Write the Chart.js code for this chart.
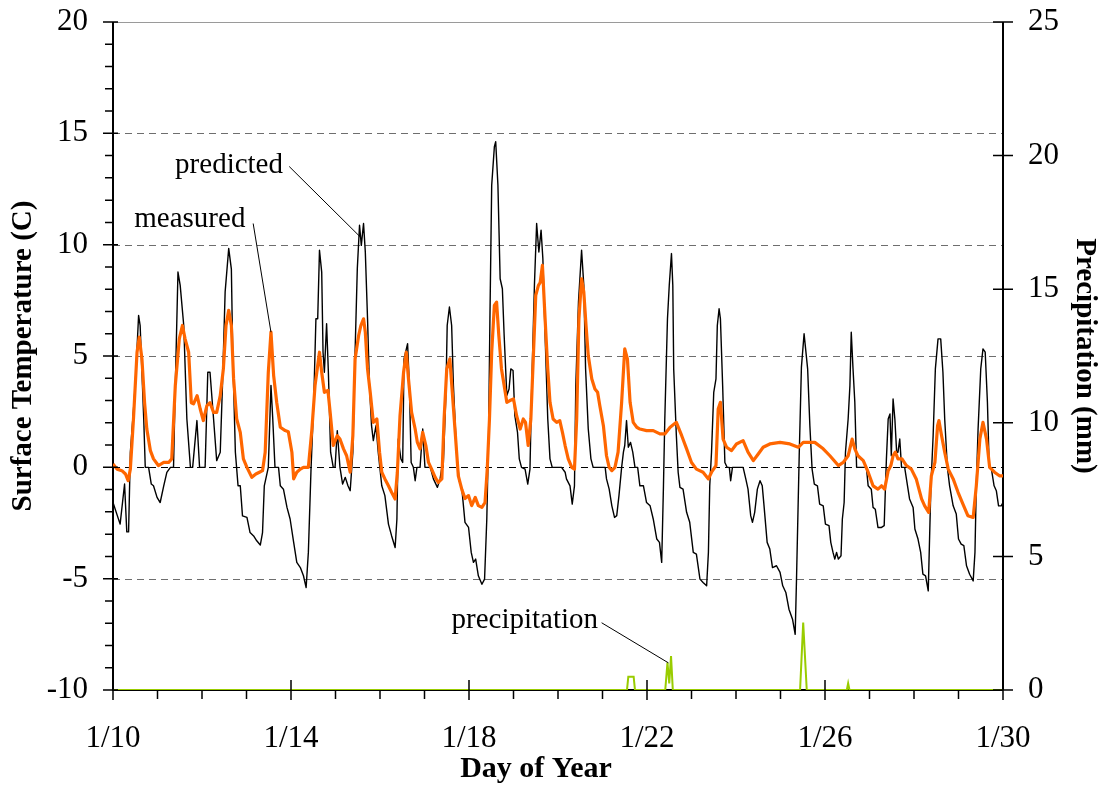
<!DOCTYPE html>
<html>
<head>
<meta charset="utf-8">
<script src="https://cdn.jsdelivr.net/npm/chart.js@4/dist/chart.umd.min.js"></script>
<style>
  html, body { margin: 0; padding: 0; background: #fff; }
</style>
</head>
<body>
<canvas id="surfaceChart" width="1105" height="787"></canvas>
<script>
// predicted surface temperature (C) by day of year
const predDays = [10.00,10.16,10.26,10.31,10.35,10.39,10.50,10.575,10.61,10.69,10.725,10.80,10.86,10.91,10.99,11.06,11.14,11.21,11.29,11.36,11.40,11.46,11.51,11.59,11.66,11.74,11.79,11.886,11.945,12.07,12.13,12.18,12.26,12.33,12.41,12.46,12.52,12.60,12.66,12.69,12.75,12.81,12.86,12.91,13.01,13.08,13.16,13.23,13.31,13.36,13.40,13.49,13.55,13.59,13.64,13.72,13.76,13.83,13.91,13.98,14.06,14.13,14.21,14.28,14.34,14.39,14.45,14.51,14.56,14.60,14.64,14.69,14.72,14.75,14.80,14.84,14.89,14.95,14.99,15.04,15.10,15.16,15.22,15.28,15.33,15.39,15.44,15.49,15.54,15.58,15.63,15.67,15.72,15.76,15.81,15.85,15.91,15.96,16.04,16.11,16.19,16.26,16.34,16.38,16.41,16.47,16.51,16.54,16.62,16.66,16.70,16.75,16.79,16.83,16.90,16.96,17.01,17.13,17.20,17.29,17.35,17.39,17.42,17.48,17.51,17.56,17.61,17.65,17.72,17.78,17.84,17.91,17.99,18.05,18.10,18.15,18.21,18.29,18.35,18.40,18.44,18.47,18.51,18.57,18.60,18.65,18.70,18.75,18.79,18.85,18.90,18.94,18.99,19.03,19.09,19.13,19.18,19.26,19.32,19.37,19.41,19.47,19.52,19.57,19.62,19.66,19.71,19.77,19.82,19.87,20.08,20.16,20.19,20.27,20.32,20.37,20.40,20.46,20.53,20.58,20.62,20.68,20.74,20.79,21.06,21.09,21.15,21.21,21.27,21.32,21.37,21.43,21.47,21.50,21.54,21.58,21.63,21.68,21.73,21.79,21.84,21.92,21.99,22.07,22.14,22.22,22.28,22.33,22.37,22.40,22.46,22.50,22.55,22.58,22.60,22.66,22.70,22.74,22.81,22.89,22.96,23.04,23.11,23.19,23.26,23.34,23.38,23.41,23.45,23.50,23.55,23.58,23.62,23.65,23.70,23.75,23.80,23.85,23.88,23.92,24.16,24.22,24.27,24.33,24.37,24.42,24.48,24.54,24.59,24.63,24.70,24.76,24.82,24.91,24.99,25.05,25.12,25.19,25.27,25.33,25.36,25.42,25.47,25.53,25.61,25.66,25.71,25.76,25.83,25.88,25.96,26.01,26.09,26.13,26.18,26.22,26.26,26.30,26.36,26.39,26.43,26.46,26.52,26.56,26.59,26.63,26.67,26.71,26.93,26.97,27.04,27.08,27.13,27.19,27.27,27.33,27.38,27.42,27.46,27.49,27.53,27.57,27.61,27.64,27.68,27.72,27.79,27.83,27.90,27.98,28.02,28.09,28.15,28.20,28.26,28.32,28.38,28.43,28.48,28.54,28.60,28.65,28.69,28.75,28.80,28.88,28.95,29.00,29.06,29.12,29.18,29.25,29.33,29.37,29.40,29.44,29.50,29.55,29.60,29.65,29.69,29.74,29.80,29.85,29.90,29.96,30.00];
const predTemp = [-1.58,-2.55,-0.75,-2.9,-2.9,0.68,3.68,6.82,6.37,2.2,0,0,-0.75,-0.83,-1.35,-1.58,-0.83,-0.23,0,0,3.68,8.77,8.17,6.37,2.17,0,0,2.1,0,0,4.27,4.27,2.17,0.3,0.68,3.68,7.88,9.83,8.9,5.17,0.68,-0.83,-0.83,-2.18,-2.25,-2.93,-3.08,-3.3,-3.49,-2.93,-0.83,0,3.68,2.17,0,0,-0.83,-0.98,-1.8,-2.32,-3.37,-4.27,-4.5,-4.87,-5.4,-3.82,-0.08,2.9,6.67,6.67,9.75,8.77,5.17,4.27,6.45,4.27,0.68,0,0,1.65,0,-0.75,-0.45,-0.83,-1.05,0.68,5.17,8.92,10.87,9.97,10.95,9.67,6.67,3.82,1.87,1.2,1.87,0.68,-0.83,-1.27,-2.55,-3.07,-3.6,-2.32,1.27,0.38,0.22,4.87,5.55,3.67,0.22,0,-0.6,0,0,1.72,0,0,-0.52,-0.9,-0.52,0,0,3.22,6.37,7.2,6.37,3.67,0.68,-0.6,-0.98,-2.47,-2.7,-3.82,-4.27,-4.12,-4.87,-5.25,-5.02,-2.32,1.42,6.67,12.67,14.4,14.62,12.67,8.47,8.02,5.92,3.22,3.52,4.42,4.35,2.32,1.57,0.38,0,-0.08,-0.75,-0.08,3.67,8.17,10.95,9.67,10.65,9.37,5.92,2.17,0.38,0,0,-0.22,-0.52,-0.83,-1.65,-0.83,3.67,7.42,9.75,8.17,4.42,1.72,0.38,0,0,-0.52,-0.98,-1.73,-2.25,-2.17,-1.27,0,0.68,0.98,2.1,0.9,1.12,0.68,0,0,-0.83,-0.83,-1.58,-1.73,-2.32,-3.22,-3.37,-4.27,-0.83,2.17,6.67,8.17,9.6,8.17,4.42,1.42,-0.22,-0.9,-0.98,-2.02,-2.47,-3.82,-3.9,-5.02,-5.17,-5.32,-3.82,-0.83,0.68,3.37,3.97,6.37,7.12,6.67,3.67,0.22,0,0,-0.6,0,0,-0.52,-0.98,-2.17,-2.47,-2.02,-0.98,-0.6,-0.83,-1.73,-3.37,-3.67,-4.5,-4.42,-4.72,-5.32,-5.62,-6.37,-6.82,-7.5,-5.0,0.5,4.5,6.0,4.42,1.87,-0.08,-0.75,-0.83,-1.65,-1.73,-2.55,-2.62,-3.37,-3.82,-4.12,-3.82,-4.12,-3.97,-2.32,-1.58,0.68,2.17,3.67,6.07,4.42,2.92,0,0,-0.83,-0.98,-1.8,-1.88,-2.7,-2.7,-2.62,0.38,2.17,2.4,0.52,3.07,2.17,0.68,0.68,1.27,0,0,-0.52,-1.42,-1.8,-2.77,-3.22,-3.82,-4.8,-4.87,-5.55,-0.83,1.42,4.42,5.77,5.77,4.27,2.17,0,-0.83,-1.73,-2.1,-3.22,-3.45,-3.52,-4.42,-4.8,-5.1,-3.82,-0.83,1.72,4.42,5.32,5.17,2.92,0,-0.08,-0.83,-1.05,-1.73,-1.73,-1.58];

// measured surface temperature (C)
const measDays = [10.00,10.09,10.20,10.28,10.34,10.39,10.46,10.54,10.59,10.65,10.71,10.76,10.84,10.91,11.02,11.14,11.25,11.32,11.40,11.49,11.56,11.62,11.70,11.76,11.81,11.89,11.96,12.03,12.11,12.18,12.26,12.33,12.41,12.48,12.54,12.60,12.66,12.71,12.78,12.86,12.93,13.01,13.12,13.21,13.29,13.36,13.42,13.49,13.55,13.61,13.68,13.76,13.87,13.94,14.02,14.06,14.13,14.21,14.28,14.39,14.47,14.54,14.60,14.64,14.69,14.75,14.83,14.88,14.95,15.04,15.10,15.18,15.25,15.33,15.39,15.44,15.52,15.57,15.63,15.67,15.72,15.78,15.85,15.93,15.99,16.04,16.11,16.19,16.26,16.34,16.39,16.45,16.53,16.59,16.64,16.71,16.79,16.84,16.90,16.96,17.03,17.09,17.16,17.24,17.31,17.39,17.44,17.50,17.57,17.63,17.69,17.76,17.84,17.91,17.99,18.06,18.14,18.21,18.29,18.36,18.41,18.46,18.51,18.57,18.62,18.67,18.73,18.79,18.85,18.92,19.00,19.07,19.15,19.22,19.27,19.33,19.39,19.45,19.50,19.56,19.60,19.65,19.71,19.77,19.82,19.89,19.97,20.04,20.10,20.16,20.23,20.31,20.37,20.42,20.47,20.53,20.58,20.63,20.68,20.76,20.83,20.89,20.94,21.02,21.09,21.15,21.21,21.28,21.35,21.43,21.50,21.56,21.62,21.69,21.77,21.84,21.99,22.14,22.29,22.40,22.52,22.66,22.78,22.89,23.00,23.11,23.26,23.38,23.45,23.55,23.60,23.65,23.71,23.79,23.90,24.01,24.16,24.27,24.39,24.50,24.61,24.76,24.99,25.21,25.40,25.51,25.77,25.96,26.11,26.30,26.41,26.52,26.61,26.67,26.74,26.86,26.97,27.08,27.19,27.27,27.34,27.42,27.48,27.53,27.58,27.64,27.73,27.83,27.94,28.05,28.17,28.24,28.33,28.39,28.47,28.53,28.56,28.62,28.69,28.77,28.88,28.99,29.10,29.21,29.33,29.40,29.48,29.55,29.63,29.70,29.81,29.92,30.00];
const measTemp = [0.15,-0.08,-0.15,-0.3,-0.6,-0.08,2.17,5.17,5.85,4.87,2.9,1.72,0.75,0.38,0.08,0.22,0.22,0.38,3.67,5.77,6.37,5.77,5.17,2.9,2.85,3.22,2.62,2.1,2.77,2.9,2.47,2.47,3.22,4.42,6.37,7.05,6.37,3.97,2.17,1.57,0.38,0,-0.45,-0.3,-0.22,-0.15,0.68,4.27,6.07,4.12,2.9,1.8,1.65,1.6,0.68,-0.52,-0.22,-0.08,0,0,1.72,3.67,4.57,5.17,4.27,3.37,3.45,2.47,0.98,1.42,1.27,0.83,0.52,-0.22,1.42,4.87,5.92,6.37,6.67,6.07,4.42,3.37,2.02,2.17,0.68,-0.22,-0.52,-0.83,-1.12,-1.42,-0.22,2.32,4.27,5.17,3.97,2.47,1.72,1.12,0.83,1.57,0.98,0.22,-0.08,-0.45,-0.68,-0.52,2.17,4.42,4.87,3.22,1.57,-0.38,-1.0,-1.4,-1.27,-1.72,-1.35,-1.72,-1.8,-1.58,-0.08,2.17,5.17,7.27,7.42,5.92,4.42,3.67,2.92,3.0,3.07,2.32,1.72,2.17,2.02,0.98,2.17,5.17,7.72,8.17,8.3,9.07,6.67,4.42,2.92,2.17,2.02,2.1,1.57,0.98,0.38,0,-0.08,2.17,6.67,8.47,7.87,6.37,5.02,3.97,3.52,3.37,2.77,1.87,0.52,0,-0.15,0,0.68,2.92,5.32,4.87,2.92,2.02,1.8,1.72,1.65,1.65,1.5,1.5,1.8,2.02,1.42,0.83,0.22,-0.08,-0.22,-0.52,-0.22,0.08,2.62,2.92,1.27,0.9,0.75,1.05,1.2,0.68,0.3,0.6,0.9,1.05,1.12,1.05,0.9,1.12,1.12,0.83,0.52,0.08,0.22,0.52,1.27,0.83,0.52,0.3,-0.22,-0.83,-0.98,-0.83,-0.98,-0.15,0.08,0.52,0.68,0.38,0.38,0.08,-0.08,-0.52,-1.42,-1.73,-2.02,-0.38,0.22,1.87,2.1,1.42,0.68,-0.08,-0.52,-1.12,-1.65,-2.17,-2.25,-0.83,1.27,2.02,1.27,0,-0.22,-0.38,-0.38];

// precipitation (mm), right axis
const precipDays = [10.00,21.55,21.58,21.70,21.73,22.41,22.46,22.50,22.54,22.58,25.44,25.51,25.59,26.49,26.52,26.55,30.00];
const precipMm = [0,0,0.5,0.5,0,0,1.03,0.25,1.27,0,0,2.52,0,0,0.25,0,0];

// axes
const tempMin = -10, tempMax = 20;
const precipMin = 0, precipMax = 25;
const dayMin = 10, dayMax = 30;
const gridTemps = [15, 10, 5, 0, -5];
const xTitle = 'Day of Year';

// callouts: label, text anchor (day, temp), leader from, leader to
const callouts = [
  { text: 'predicted', at: [13.82, 13.56], from: [13.96, 13.51], to: [15.55, 10.36] },
  { text: 'measured', at: [12.975, 11.13], from: [13.15, 10.95], to: [13.55, 6.07] },
  { text: 'precipitation', at: [20.90, -6.87], from: [20.98, -6.98], to: [22.48, -8.78] }
];

const serif = 'Liberation Serif, Times New Roman, serif';

const toPoints = (xs, ys) => xs.map((d, i) => ({ x: d, y: ys[i] }));

// keep the plot box fixed: 113px left axis, 102px right axis, 97px bottom axis, 22px top
const fitVertical = (w) => (s) => {
  s.width = w;
  s.paddingTop = 22;
  s.paddingBottom = 0;
};

const axisDecor = {
  id: 'axisDecor',
  beforeDatasetsDraw(chart) {
    const { ctx, chartArea: a, scales } = chart;
    const y = scales.y;
    ctx.save();
    // dashed reference lines
    ctx.lineWidth = 1;
    ctx.setLineDash([7, 5]);
    gridTemps.forEach((t) => {
      const py = Math.round(y.getPixelForValue(t)) + 0.5;
      ctx.strokeStyle = t === 0 ? '#000' : '#6e6e6e';
      ctx.beginPath();
      ctx.moveTo(a.left, py);
      ctx.lineTo(a.right, py);
      ctx.stroke();
    });
    ctx.setLineDash([]);
    // frame
    ctx.strokeStyle = '#9a9a9a';
    ctx.beginPath();
    ctx.moveTo(a.left, a.top + 0.5);
    ctx.lineTo(a.right, a.top + 0.5);
    ctx.stroke();
    ctx.strokeStyle = '#000';
    ctx.lineWidth = 2;
    ctx.beginPath();
    ctx.moveTo(a.left, a.top);
    ctx.lineTo(a.left, a.bottom);
    ctx.lineTo(a.right, a.bottom);
    ctx.moveTo(a.right, a.top);
    ctx.lineTo(a.right, a.bottom);
    ctx.stroke();
    ctx.restore();
  },
  afterDatasetsDraw(chart) {
    const { ctx, chartArea: a, scales } = chart;
    const { x, y, y2 } = scales;
    ctx.save();
    ctx.strokeStyle = '#000';
    ctx.lineWidth = 1.5;
    ctx.beginPath();
    // left axis: minor every 1, major every 5
    for (let t = tempMin; t <= tempMax; t++) {
      const py = y.getPixelForValue(t);
      const major = t % 5 === 0;
      ctx.moveTo(a.left - (major ? 10 : 8), py);
      ctx.lineTo(a.left + (major ? 5 : 0), py);
    }
    // bottom axis: minor every day, major every 4 days
    for (let d = dayMin; d <= dayMax; d++) {
      const px = x.getPixelForValue(d);
      const major = (d - dayMin) % 4 === 0;
      ctx.moveTo(px, a.bottom + (major ? 10 : 9));
      ctx.lineTo(px, a.bottom - (major ? 10 : 0));
    }
    // right axis: every 5 mm
    for (let p = precipMin; p <= precipMax; p += 5) {
      const py = y2.getPixelForValue(p);
      ctx.moveTo(a.right - 10, py);
      ctx.lineTo(a.right + 10, py);
    }
    ctx.stroke();

    // callouts
    ctx.lineWidth = 1;
    ctx.fillStyle = '#000';
    ctx.font = '29px ' + serif;
    ctx.textAlign = 'right';
    ctx.textBaseline = 'middle';
    callouts.forEach((c) => {
      ctx.fillText(c.text, x.getPixelForValue(c.at[0]), y.getPixelForValue(c.at[1]));
      ctx.beginPath();
      ctx.moveTo(x.getPixelForValue(c.from[0]), y.getPixelForValue(c.from[1]));
      ctx.lineTo(x.getPixelForValue(c.to[0]), y.getPixelForValue(c.to[1]));
      ctx.stroke();
    });

    // x axis title, sits a little left of the plot centre
    ctx.font = 'bold 30px ' + serif;
    ctx.textAlign = 'center';
    ctx.fillText(xTitle, (a.left + a.right) / 2 - 22, 769);
    ctx.restore();
  }
};

new Chart(document.getElementById('surfaceChart'), {
  type: 'line',
  data: {
    datasets: [
      {
        label: 'precipitation',
        data: toPoints(precipDays, precipMm),
        yAxisID: 'y2',
        borderColor: '#99cc00',
        borderWidth: 2,
        pointRadius: 0,
        tension: 0
      },
      {
        label: 'measured',
        data: toPoints(measDays, measTemp),
        yAxisID: 'y',
        borderColor: '#ff6600',
        borderWidth: 3.2,
        borderJoinStyle: 'round',
        pointRadius: 0,
        tension: 0
      },
      {
        label: 'predicted',
        data: toPoints(predDays, predTemp),
        yAxisID: 'y',
        borderColor: '#000',
        borderWidth: 1.4,
        borderJoinStyle: 'round',
        pointRadius: 0,
        tension: 0
      }
    ]
  },
  options: {
    responsive: false,
    devicePixelRatio: 1,
    animation: false,
    layout: { padding: 0 },
    plugins: { legend: { display: false }, tooltip: { enabled: false } },
    scales: {
      x: {
        type: 'linear',
        min: dayMin,
        max: dayMax,
        afterFit: (s) => { s.height = 97; },
        grid: { drawOnChartArea: false, drawTicks: false },
        border: { display: false },
        ticks: {
          stepSize: 1,
          autoSkip: false,
          maxRotation: 0,
          padding: 30,
          color: '#000',
          font: { family: serif, size: 31 },
          callback: (v) => ((v - dayMin) % 4 === 0 ? '1/' + v : '')
        }
      },
      y: {
        position: 'left',
        min: tempMin,
        max: tempMax,
        afterFit: fitVertical(113),
        grid: { drawOnChartArea: false, drawTicks: false },
        border: { display: false },
        ticks: {
          stepSize: 1,
          autoSkip: false,
          padding: 25,
          color: '#000',
          font: { family: serif, size: 31 },
          callback: (v) => (v % 5 === 0 ? v : '')
        },
        title: {
          display: true,
          text: 'Surface Temperature (C)',
          color: '#000',
          font: { family: serif, size: 29, weight: 'bold' },
          padding: { top: 6, bottom: 0 }
        }
      },
      y2: {
        position: 'right',
        min: precipMin,
        max: precipMax,
        afterFit: fitVertical(102),
        grid: { drawOnChartArea: false, drawTicks: false },
        border: { display: false },
        ticks: {
          stepSize: 5,
          padding: 25,
          color: '#000',
          font: { family: serif, size: 31 }
        },
        title: {
          display: true,
          text: 'Precipitation (mm)',
          color: '#000',
          font: { family: serif, size: 29, weight: 'bold' },
          padding: { top: 3, bottom: 0 }
        }
      }
    }
  },
  plugins: [axisDecor]
});
</script>
</body>
</html>
